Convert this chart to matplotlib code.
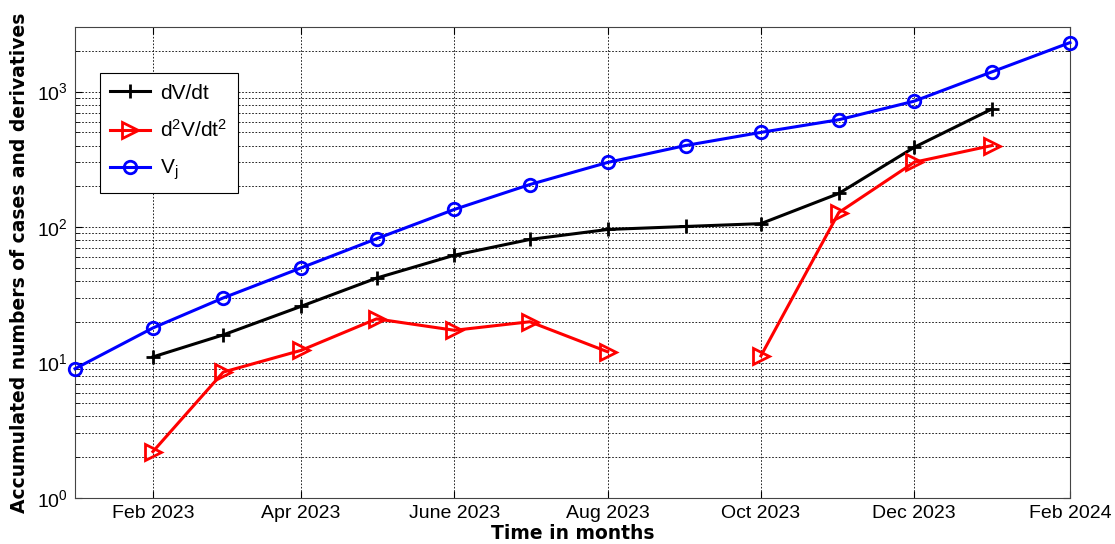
import matplotlib
matplotlib.use("Agg")
import matplotlib.pyplot as plt
import numpy as np
import pandas as pd

plt.rcParams['font.family'] = ['Liberation Sans', 'DejaVu Sans']
plt.rcParams['mathtext.fontset'] = 'custom'
plt.rcParams['mathtext.rm'] = 'Liberation Sans'
plt.rcParams['mathtext.it'] = 'Liberation Sans'

# monthly values, Jan 2023 .. Feb 2024
months = pd.date_range('2023-01-01', periods=14, freq='MS')
v_j = [9, 18, 30, 50, 82, 135, 206, 300, 400, 500, 620, 850, 1400, 2300]
dv_dt = [np.nan, 11, 16, 26, 42, 62, 81, 96, 101, 106, 177, 388, 745, np.nan]
d2v_dt2 = [np.nan, 2.2, 8.5, 12.3, 21, 17.3, 20, 12, np.nan, 11.2, 128, 301, 400, np.nan]

tick_dates = pd.to_datetime(['2023-02-01', '2023-04-01', '2023-06-01', '2023-08-01',
                             '2023-10-01', '2023-12-01', '2024-02-01'])
tick_labels = ['Feb 2023', 'Apr 2023', 'June 2023', 'Aug 2023',
               'Oct 2023', 'Dec 2023', 'Feb 2024']

fig = plt.figure(figsize=(11.15, 5.44), dpi=100)
ax = fig.add_axes([0.0673, 0.0846, 0.8923, 0.8658])

ax.semilogy(months, dv_dt, color='k', marker='+', markersize=10, mew=2,
            linewidth=2.2, label='dV/dt', clip_on=False, zorder=3)
ax.semilogy(months, d2v_dt2, color='r', marker='>', markersize=12, mew=2,
            mfc='none', linewidth=2.2, label=r'd$^2$V/dt$^2$', clip_on=False, zorder=3)
ax.semilogy(months, v_j, color='b', marker='o', markersize=9, mew=2,
            mfc='none', linewidth=2.2, label=r'V$_\mathrm{j}$', clip_on=False, zorder=3)

ax.set_xlim(pd.Timestamp('2023-01-01'), pd.Timestamp('2024-02-01'))
ax.set_ylim(1, 3000)
ax.set_xticks(tick_dates)
ax.set_xticklabels(tick_labels)
ax.xaxis.set_minor_locator(matplotlib.ticker.NullLocator())

ax.tick_params(which='both', direction='in', top=True, right=True, labelsize=14)
ax.tick_params(which='major', length=5, pad=5)
ax.tick_params(which='minor', length=3)
ax.grid(True, which='major', color='k', linestyle=(0, (2, 2)), linewidth=0.6)
ax.grid(True, which='minor', axis='y', color='k', linestyle=(0, (2, 2)), linewidth=0.6)
for s in ax.spines.values():
    s.set_color('#444444')

ax.set_xlabel('Time in months', fontsize=13.5, fontweight='bold', family='DejaVu Sans', labelpad=1.5)
ax.set_ylabel('Accumulated numbers of cases and derivatives', fontsize=13.5,
              fontweight='bold', family='DejaVu Sans', labelpad=6)

leg = ax.legend(loc='upper left', bbox_to_anchor=(0.025, 0.902), borderaxespad=0,
                fontsize=15, fancybox=False, edgecolor='k', framealpha=1,
                labelspacing=0.8, handlelength=1.9, handletextpad=0.5, borderpad=0.5)
leg.get_frame().set_linewidth(0.8)

fig.savefig('out.png', dpi=100)
